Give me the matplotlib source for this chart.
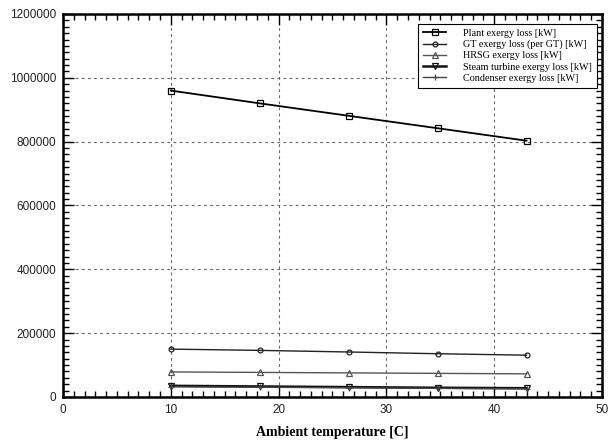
import matplotlib
matplotlib.use("Agg")
import matplotlib.pyplot as plt
from matplotlib.ticker import MultipleLocator, FuncFormatter

temperature = [10, 18.25, 26.5, 34.75, 43]
plant_loss = [960000, 920000, 881000, 842000, 803000]
gt_loss = [150000, 146000, 141000, 135500, 131000]
hrsg_loss = [78500, 77000, 75500, 74000, 72500]
steam_loss = [35000, 33000, 31000, 29000, 27500]
condenser_loss = [32000, 30500, 29000, 27000, 25500]

labels = ["Plant exergy loss [kW]", "GT exergy loss (per GT) [kW]",
          "HRSG exergy loss [kW]", "Steam turbine exergy loss [kW]",
          "Condenser exergy loss [kW]"]
series = [plant_loss, gt_loss, hrsg_loss, steam_loss, condenser_loss]
markers = ["s", "o", "^", "v", "+"]
colors = ["#000000", "#222222", "#555555", "#111111", "#444444"]
msizes = [4.5, 3.5, 4.5, 4.5, 5]
lws = [1.3, 1.0, 1.0, 1.8, 1.0]

fig = plt.figure(figsize=(6.08, 4.41), dpi=100)
ax = fig.add_axes([0.1036, 0.0998, 0.8865, 0.8685])

for y, lab, m, c, ms, lw in zip(series, labels, markers, colors, msizes, lws):
    ax.plot(temperature, y, color=c, marker=m, markersize=ms, lw=lw,
            fillstyle="none", markeredgewidth=0.9, label=lab)

ax.set_xlim(0, 50)
ax.set_ylim(0, 1200000)
ax.xaxis.set_major_locator(MultipleLocator(10))
ax.xaxis.set_minor_locator(MultipleLocator(1))
ax.yaxis.set_major_locator(MultipleLocator(200000))
ax.yaxis.set_minor_locator(MultipleLocator(20000))
ax.yaxis.set_major_formatter(FuncFormatter(lambda v, p: f"{int(round(v))}"))
ax.xaxis.set_major_formatter(FuncFormatter(lambda v, p: f"{int(round(v))}"))
ax.tick_params(which="both", direction="in", top=True, right=True,
               colors="black", labelsize=8.5, width=1.0)
ax.tick_params(which="major", length=8, pad=5)
ax.tick_params(which="minor", length=4)
for lab in ax.get_xticklabels() + ax.get_yticklabels():
    lab.set_family("Liberation Sans")
    lab.set_color("#222222")
ax.grid(True, which="major", linestyle=(0, (2.5, 3)), color="#666666", lw=0.8)
for sp in ax.spines.values():
    sp.set_linewidth(1.8)

ax.set_xlabel("Ambient temperature [C]", fontfamily="Liberation Serif",
              fontweight="bold", fontsize=10, labelpad=7)

leg = ax.legend(loc="upper right", bbox_to_anchor=(0.99, 0.975),
                borderaxespad=0, prop={"family": "Liberation Serif", "size": 7.3},
                frameon=True, fancybox=False, edgecolor="black",
                handlelength=2.3, handletextpad=1.6, labelspacing=0.2,
                borderpad=0.5)
leg.get_frame().set_linewidth(0.8)
leg.get_frame().set_alpha(1)

fig.savefig("out.png", dpi=100)
